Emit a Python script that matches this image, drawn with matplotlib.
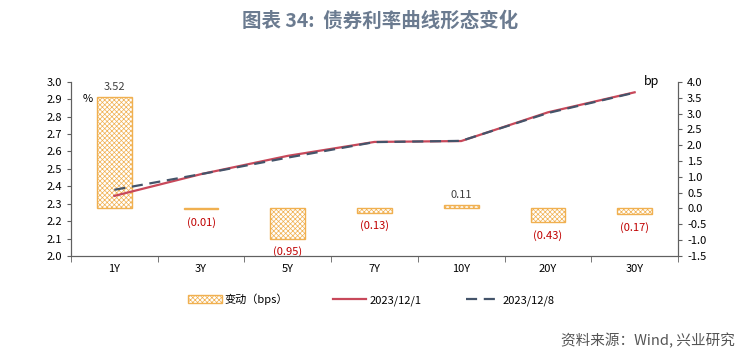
import numpy as np
import matplotlib.pyplot as plt
from matplotlib.patches import Patch
from matplotlib.lines import Line2D

plt.rcParams['font.family'] = ['Noto Sans CJK SC', 'DejaVu Sans']
plt.rcParams['hatch.linewidth'] = 0.5

tenors = ['1Y', '3Y', '5Y', '7Y', '10Y', '20Y', '30Y']
change_bp = [3.52, -0.01, -0.95, -0.13, 0.11, -0.43, -0.17]
rate_1201 = [2.345, 2.470, 2.575, 2.655, 2.660, 2.825, 2.940]
rate_1208 = [2.380, 2.470, 2.565, 2.654, 2.661, 2.821, 2.938]

bar_edge = '#F0B050'
red = '#C8485A'
dark = '#44546A'

fig = plt.figure(figsize=(7.55, 3.59), dpi=100)
ax = fig.add_axes([0.094, 0.287, 0.804, 0.485])
ax2 = ax.twinx()

x = np.arange(len(tenors))

# bars on the right axis
ax2.bar(x, change_bp, width=0.4, color='white', edgecolor=bar_edge,
        hatch='xxxxxxx', linewidth=1.0, zorder=1)
for xi, v in zip(x, change_bp):
    if v >= 0:
        ax2.text(xi, v + 0.15, f'{v:.2f}', ha='center', va='bottom',
                 fontsize=8, color='#404040', clip_on=False)
    else:
        ax2.text(xi, v - 0.25, f'({abs(v):.2f})', ha='center', va='top',
                 fontsize=8, color='#C00000')

ax2.set_ylim(-1.5, 4.0)
ax2.set_yticks(np.arange(-1.5, 4.01, 0.5))
ax2.set_yticklabels([f'{t:.1f}' for t in np.arange(-1.5, 4.01, 0.5)])

# lines on the left axis, drawn above bars
ax.set_zorder(ax2.get_zorder() + 1)
ax.patch.set_visible(False)
ax.plot(x, rate_1201, color=red, linewidth=1.6, zorder=3)
ax.plot(x, rate_1208, color=dark, linewidth=1.6, dashes=(5, 3), zorder=4)

ax.set_ylim(2.0, 3.0)
ax.set_yticks(np.arange(2.0, 3.01, 0.1))
ax.set_yticklabels([f'{t:.1f}' for t in np.arange(2.0, 3.01, 0.1)])
ax.set_xlim(-0.5, len(tenors) - 0.5)
ax.set_xticks(x)
ax.set_xticklabels(tenors)
ax.set_xticks(np.arange(-0.5, len(tenors), 1.0), minor=True)
ax.tick_params(axis='x', which='major', length=0, pad=6)
ax.tick_params(axis='x', which='minor', length=4, color='#606060')

for a in (ax, ax2):
    a.tick_params(axis='y', labelsize=8, length=3, color='#606060')
    a.tick_params(axis='x', labelsize=8)
    a.spines['top'].set_visible(False)
    for s in ('left', 'right', 'bottom'):
        a.spines[s].set_color('#606060')

ax.text(-0.31, 2.90, '%', fontsize=8, ha='center', va='center')
ax2.text(6.2, 4.0, 'bp', fontsize=9, ha='center', va='center')

handles = [Patch(facecolor='white', edgecolor=bar_edge, hatch='xxxxxxx'),
           Line2D([0], [0], color=red, linewidth=1.6),
           Line2D([0], [0], color=dark, linewidth=1.6, dashes=(5, 3))]
labels = ['变动（bps）', '2023/12/1', '2023/12/8']
fig.legend(handles, labels, loc='center', bbox_to_anchor=(0.492, 0.165),
           ncol=3, frameon=False, fontsize=8, columnspacing=4.0,
           handlelength=3.0, handletextpad=0.3)

fig.text(0.503, 0.94, '图表 34:  债券利率曲线形态变化', ha='center', va='center',
         fontsize=14, fontweight='bold', color='#6B7B90')
fig.text(0.974, 0.052, '资料来源：Wind, 兴业研究', ha='right', va='center',
         fontsize=10.5, color='#555555')

fig.savefig('out.png', dpi=100)
